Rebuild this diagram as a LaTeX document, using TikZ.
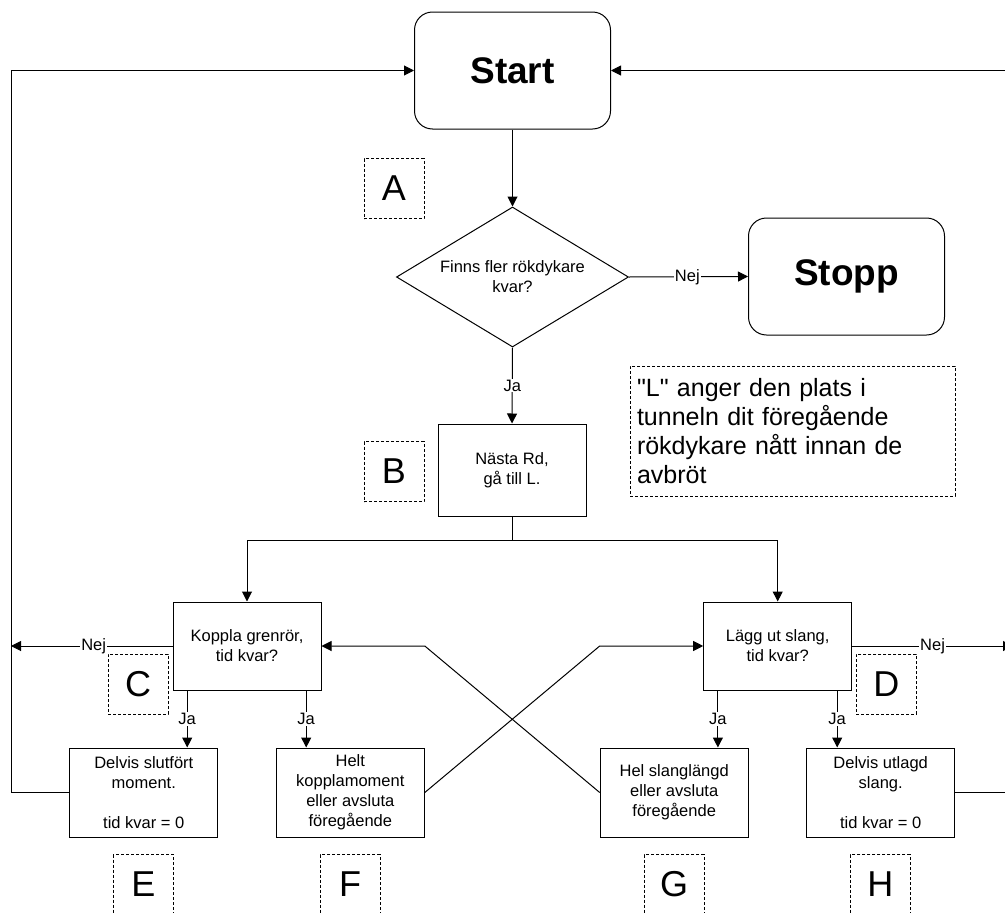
\documentclass[tikz,border=0pt]{standalone}
\usepackage{fontspec}
\setmainfont{Liberation Sans}
\font\plainqf="Liberation Sans" at 25pt
\usetikzlibrary{shapes.geometric,arrows.meta}
\begin{document}
\begin{tikzpicture}[x=1pt,y=-1pt,
  base/.style={draw=black, line width=1pt, align=center, inner sep=0pt, font=\fontsize{16.5}{20}\selectfont},
  term/.style={base, rounded corners=18pt, minimum width=196pt, minimum height=117pt, font=\fontsize{37}{40}\selectfont\bfseries},
  proc/.style={base, minimum width=148pt, minimum height=89pt},
  decision/.style={base, shape=diamond, shape aspect=1.657, minimum width=232pt, minimum height=140pt},
  tag/.style={draw=black, line width=1pt, dash pattern=on 3pt off 2pt, minimum width=60pt, minimum height=60pt, inner sep=0pt, font=\fontsize{36}{40}\selectfont},
  conn/.style={line width=1pt, -{Triangle[length=10pt,width=10pt]}},
  plain/.style={line width=1pt},
  lab/.style={fill=white, inner sep=1pt, font=\fontsize{16.5}{20}\selectfont}]
\useasboundingbox (0,0) rectangle (1005,913);
\fill[white] (0,0) rectangle (1005,913);

% nodes
\node[term] (start) at (512.5,70.5) {Start};
\node[decision] (dia) at (512.5,277) {Finns fler rökdykare\\kvar?};
\node[term] (stopp) at (846.5,276.5) {Stopp};
\node[tag] (A) at (394,188.5) {A};
\node[proc, minimum height=92pt] (nasta) at (512,470) {Nästa Rd,\\gå till L.};
\node[tag] (B) at (394,471.5) {B};
\node[tag, minimum width=325pt, minimum height=130pt, text width=311pt, align=left, font=\fontsize{25}{29}\selectfont] (note) at (792.5,431) {{\plainqf\char34}L{\plainqf\char34} anger den plats i\\tunneln dit föregående\\rökdykare nått innan de\\avbröt};

\node[proc, minimum height=88pt] (koppla) at (247,646) {Koppla grenrör,\\tid kvar?};
\node[tag] (C) at (138,684) {C};
\node[proc, minimum height=88pt] (lagg) at (777.7,646) {Lägg ut slang,\\tid kvar?};
\node[tag] (D) at (886.3,684) {D};

\node[proc] (eb) at (143.8,792.5) {Delvis slutfört\\moment.\\[20pt]tid kvar = 0};
\node[proc] (fb) at (350.3,792.5) {Helt\\kopplamoment\\eller avsluta\\föregående};
\node[proc] (gb) at (674.2,792.5) {Hel slanglängd\\eller avsluta\\föregående};
\node[proc] (hb) at (880.7,792.5) {Delvis utlagd\\slang.\\[20pt]tid kvar = 0};

\node[tag] (E) at (143.5,884.5) {E};
\node[tag] (F) at (350,884.5) {F};
\node[tag] (G) at (674,884.5) {G};
\node[tag] (H) at (880.4,884.5) {H};

% helper coordinates
\coordinate (lx) at (11,0);
\coordinate (rx) at (1013,0);
\coordinate (br) at (512,540);
\coordinate (k1) at ([xshift=14.7pt]koppla.south west);
\coordinate (k2) at ([xshift=-15.3pt]koppla.south east);
\coordinate (l1) at ([xshift=14.7pt]lagg.south west);
\coordinate (l2) at ([xshift=-15pt]lagg.south east);

% connectors
\draw[conn] (start) -- (dia);
\draw[conn] (dia.east) -- node[lab, pos=0.49] {Nej} (stopp.west);
\draw[conn] (dia.south) -- node[lab] {Ja} (nasta.north);
\draw[plain] (nasta.south) -- (br);
\draw[conn] (br) -| (koppla.north);
\draw[conn] (br) -| (lagg.north);

\draw[conn] (koppla.west) -- node[lab, pos=0.488] {Nej} (koppla.west -| lx);
\draw[conn] (lagg.east) -- node[lab, pos=0.5] {Nej} (lagg.east -| rx);

\draw[conn] (k1) -- node[lab] {Ja} (k1 |- eb.north);
\draw[conn] (k2) -- node[lab] {Ja} (k2 |- fb.north);
\draw[conn] (l1) -- node[lab] {Ja} (l1 |- gb.north);
\draw[conn] (l2) -- node[lab] {Ja} (l2 |- hb.north);

\draw[conn] (fb.east) -- (gb.west |- lagg.west) -- (lagg.west);
\draw[conn] (gb.west) -- (fb.east |- koppla.east) -- (koppla.east);

\draw[conn] (eb.west) -- (eb.west -| lx) -- (lx |- start.west) -- (start.west);
\draw[conn] (hb.east) -- (hb.east -| rx) -- (rx |- start.east) -- (start.east);
\end{tikzpicture}
\end{document}
